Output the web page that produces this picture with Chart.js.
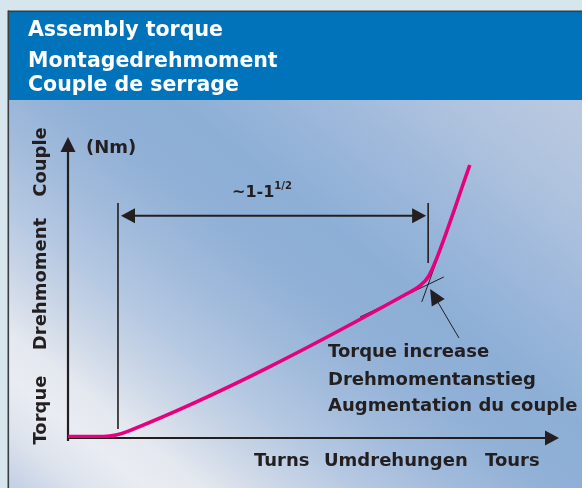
<!DOCTYPE html>
<html>
<head>
<meta charset="utf-8">
<script src="https://cdn.jsdelivr.net/npm/chart.js@4.4.0/dist/chart.umd.min.js"></script>
<style>
  html, body { margin: 0; padding: 0; background: #d7e5ed; }
  canvas { display: block; }
</style>
</head>
<body>
<canvas id="torque" width="582" height="488"></canvas>
<script>
// torque vs turns (schematic units)
const turns = [0, 0.73, 0.98, 1.22, 6.98, 7.18, 7.35, 7.51, 8.20]
const torque = [0.05, 0.05, 0.10, 0.22, 4.85, 5.05, 5.35, 5.91, 9.07]

// the two tangents crossing at the torque increase
const tangentA = [[5.96, 4.02], [7.67, 5.35]]
const tangentB = [[7.22, 4.52], [7.94, 7.74]]

// range of turns marked by the dimension arrow
const rangeTurns = [1.02, 7.35]
const rangeLevel = 7.38
const rangeLeftFoot = 0.30
const rangeRightFoot = 5.81
const rangeTop = 7.81

// pointer to the torque increase: tip, tail
const pointer = [[7.39, 4.95], [7.98, 3.32]]

const titleLines = ['Assembly torque', 'Montagedrehmoment', 'Couple de serrage']
const yTitles = ['Torque', 'Drehmoment', 'Couple']
const xTitles = ['Turns', 'Umdrehungen', 'Tours']
const noteLines = ['Torque increase', 'Drehmomentanstieg', 'Augmentation du couple']

const INK = '#231f20'
const MAGENTA = '#e6007e'
const FONT = '"DejaVu Sans", Verdana, sans-serif'

const toXY = (xs, ys) => xs.map((x, i) => ({ x, y: ys[i] }))
const toPts = (arr) => arr.map(([x, y]) => ({ x, y }))

function arrowHead(ctx, tx, ty, angle, len, half) {
  ctx.save()
  ctx.translate(tx, ty)
  ctx.rotate(angle)
  ctx.beginPath()
  ctx.moveTo(0, 0)
  ctx.lineTo(-len, -half)
  ctx.lineTo(-len, half)
  ctx.closePath()
  ctx.fill()
  ctx.restore()
}

function text(ctx, str, x, y, size) {
  ctx.font = `bold ${size}px ${FONT}`
  ctx.fillText(str, x, y)
  return ctx.measureText(str).width
}

function panelGradient(ctx) {
  // diagonal bands: t = 0.8x - y grows toward the upper right
  const s1 = -540, s2 = 360
  const p = (s) => [0.4878 * s, -0.6098 * s]
  const [x1, y1] = p(s1)
  const [x2, y2] = p(s2)
  const g = ctx.createLinearGradient(x1, y1, x2, y2)
  const stops = [
    [-540, '#b9c9e1'], [-474, '#c5d1e5'], [-424, '#dde3ed'], [-370, '#e9ecf2'],
    [-324, '#e4e8ef'], [-274, '#cfd9e8'], [-200, '#b5c8e2'], [-120, '#a0badb'],
    [-40, '#90b0d6'], [40, '#8dafd6'], [150, '#9db8db'], [250, '#aec2de'], [360, '#bac9e0'],
  ]
  stops.forEach(([t, c]) => g.addColorStop((t - s1) / (s2 - s1), c))
  return g
}

const sheet = {
  id: 'sheet',
  beforeDraw(chart) {
    const { ctx, width, height } = chart
    ctx.save()
    ctx.fillStyle = '#d7e5ed'
    ctx.fillRect(0, 0, width, height)
    ctx.fillStyle = panelGradient(ctx)
    ctx.fillRect(9, 100, width - 9, height - 100)
    ctx.fillStyle = '#0073ba'
    ctx.fillRect(9, 12, width - 9, 88)
    // frame edges
    ctx.fillStyle = '#3a3d42'
    ctx.fillRect(8, 10.5, width - 8, 1.6)
    ctx.fillRect(7.5, 10.5, 1.6, height - 10)
    ctx.fillStyle = '#ffffff'
    ctx.textBaseline = 'alphabetic'
    const baselines = [36, 66.5, 90.5]
    titleLines.forEach((t, i) => text(ctx, t, 28, baselines[i], 20.5))
    ctx.restore()
  },
  beforeDatasetsDraw(chart) {
    const { ctx, scales: { x, y } } = chart
    const x0 = x.getPixelForValue(0), y0 = y.getPixelForValue(0)
    const xEnd = x.getPixelForValue(x.max), yEnd = y.getPixelForValue(y.max)
    ctx.save()
    ctx.strokeStyle = INK
    ctx.fillStyle = INK
    ctx.lineWidth = 2.2
    ctx.beginPath()
    ctx.moveTo(x0, y0 + 3)
    ctx.lineTo(x0, yEnd + 10)
    ctx.moveTo(x0 - 1, y0)
    ctx.lineTo(xEnd - 10, y0)
    ctx.stroke()
    arrowHead(ctx, x0, yEnd, -Math.PI / 2, 15, 7.5)
    arrowHead(ctx, xEnd + 1, y0, 0, 14, 7.5)
    ctx.restore()
  },
  afterDatasetsDraw(chart) {
    const { ctx, scales: { x, y } } = chart
    ctx.save()
    ctx.strokeStyle = INK
    ctx.fillStyle = INK
    // dimension arrow across the seating range
    const xa = x.getPixelForValue(rangeTurns[0]), xb = x.getPixelForValue(rangeTurns[1])
    const yl = y.getPixelForValue(rangeLevel)
    ctx.lineWidth = 1.6
    ctx.beginPath()
    ctx.moveTo(xa, y.getPixelForValue(rangeLeftFoot))
    ctx.lineTo(xa, y.getPixelForValue(rangeTop))
    ctx.moveTo(xb, y.getPixelForValue(rangeRightFoot))
    ctx.lineTo(xb, y.getPixelForValue(rangeTop))
    ctx.stroke()
    ctx.lineWidth = 2
    ctx.beginPath()
    ctx.moveTo(xa + 10, yl)
    ctx.lineTo(xb - 10, yl)
    ctx.stroke()
    arrowHead(ctx, xa + 3, yl, Math.PI, 14, 7.5)
    arrowHead(ctx, xb - 2, yl, 0, 14, 7.5)

    // pointer to the torque increase
    const tx = x.getPixelForValue(pointer[0][0]), ty = y.getPixelForValue(pointer[0][1])
    const sx = x.getPixelForValue(pointer[1][0]), sy = y.getPixelForValue(pointer[1][1])
    const ang = Math.atan2(ty - sy, tx - sx)
    ctx.lineWidth = 1
    ctx.beginPath()
    ctx.moveTo(sx, sy)
    ctx.lineTo(tx - 12 * Math.cos(ang), ty - 12 * Math.sin(ang))
    ctx.stroke()
    arrowHead(ctx, tx, ty, ang, 16, 7.5)

    // labels
    ctx.textBaseline = 'alphabetic'
    ctx.textAlign = 'left'
    const w = text(ctx, '~1-1', 232, 197, 16)
    text(ctx, '1/2', 232 + w, 189, 10)
    text(ctx, '(Nm)', 86, 153, 18)
    const noteBase = [357, 385, 411]
    noteLines.forEach((t, i) => text(ctx, t, 328, noteBase[i], 18))
    const xStarts = [254, 324, 485]
    xTitles.forEach((t, i) => text(ctx, t, xStarts[i], 466, 18))
    ctx.translate(46, 0)
    ctx.rotate(-Math.PI / 2)
    ctx.textAlign = 'center'
    const yCenters = [410, 284, 162]
    yTitles.forEach((t, i) => text(ctx, t, -yCenters[i], 0, 18))
    ctx.restore()
  },
}

new Chart(document.getElementById('torque'), {
  type: 'line',
  data: {
    datasets: [
      {
        data: toXY(turns, torque),
        borderColor: MAGENTA,
        borderWidth: 3.6,
        pointRadius: 0,
        cubicInterpolationMode: 'monotone',
        borderCapStyle: 'butt',
        order: 0,
      },
      { data: toPts(tangentA), borderColor: INK, borderWidth: 1, pointRadius: 0, order: 1 },
      { data: toPts(tangentB), borderColor: INK, borderWidth: 1, pointRadius: 0, order: 1 },
    ],
  },
  options: {
    responsive: false,
    devicePixelRatio: 1,
    animation: false,
    layout: { padding: { left: 68, right: 24, top: 137, bottom: 50 } },
    plugins: { legend: { display: false }, tooltip: { enabled: false } },
    scales: {
      x: { type: 'linear', min: 0, max: 10, display: false },
      y: { type: 'linear', min: 0, max: 10, display: false },
    },
  },
  plugins: [sheet],
})
</script>
</body>
</html>
